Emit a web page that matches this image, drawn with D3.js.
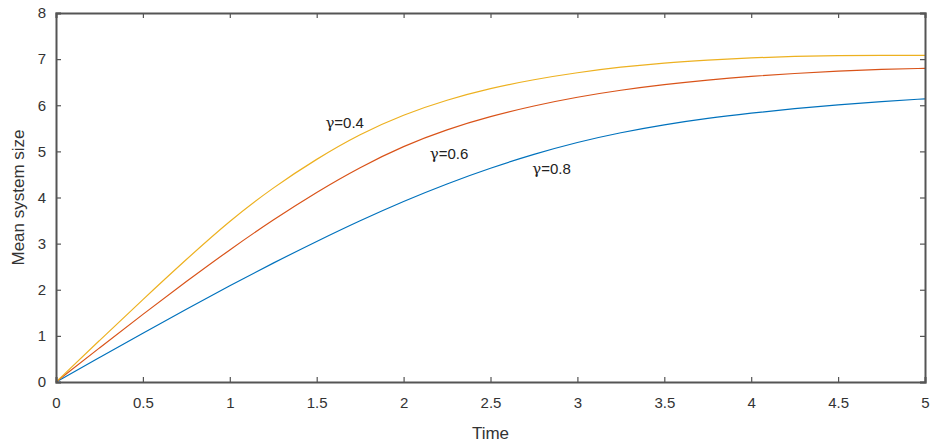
<!DOCTYPE html>
<html>
<head>
<meta charset="utf-8">
<script src="https://cdn.jsdelivr.net/npm/d3@7"></script>
<style>
  body { margin: 0; background: #fff; }
  svg { display: block; font-family: "Liberation Sans", Arial, sans-serif; }
</style>
</head>
<body>
<div id="chart"></div>
<script>
// Data
const times = [0, 0.25, 0.5, 0.75, 1, 1.25, 1.5, 1.75, 2, 2.25, 2.5, 2.75, 3, 3.25, 3.5, 3.75, 4, 4.25, 4.5, 4.75, 5];
const gamma08 = [0, 0.53, 1.06, 1.58, 2.09, 2.58, 3.05, 3.5, 3.92, 4.3, 4.64, 4.94, 5.2, 5.41, 5.58, 5.72, 5.83, 5.93, 6.01, 6.08, 6.14];
const gamma06 = [0, 0.74, 1.47, 2.18, 2.87, 3.52, 4.12, 4.66, 5.12, 5.48, 5.76, 5.99, 6.18, 6.33, 6.45, 6.55, 6.63, 6.69, 6.74, 6.78, 6.8];
const gamma04 = [0, 0.9, 1.79, 2.66, 3.5, 4.22, 4.84, 5.38, 5.8, 6.12, 6.37, 6.56, 6.71, 6.83, 6.92, 6.98, 7.03, 7.06, 7.08, 7.08, 7.08];
const xTicks = [0, 0.5, 1, 1.5, 2, 2.5, 3, 3.5, 4, 4.5, 5];
const yTicks = [0, 1, 2, 3, 4, 5, 6, 7, 8];

const series = [
  { name: "0.8", values: gamma08, color: "#0072BD", label: [2.74, 4.51] },
  { name: "0.6", values: gamma06, color: "#D95319", label: [2.15, 4.84] },
  { name: "0.4", values: gamma04, color: "#EDB120", label: [1.55, 5.51] }
];

const W = 930, H = 444;
const margin = { left: 56, right: 5, top: 13, bottom: 62 };

const svg = d3.select("#chart").append("svg")
  .attr("width", W).attr("height", H);

const x = d3.scaleLinear().domain([0, 5]).range([margin.left, W - margin.right]);
const y = d3.scaleLinear().domain([0, 8]).range([H - margin.bottom, margin.top]);

const axisColor = "#555";
const tickLen = 5;

// lines
const line = d3.line()
  .x((d, i) => x(times[i]))
  .y(d => y(d))
  .curve(d3.curveBasis);

svg.append("g")
  .selectAll("path")
  .data(series)
  .join("path")
  .attr("fill", "none")
  .attr("stroke", d => d.color)
  .attr("stroke-width", 1.2)
  .attr("d", d => line(d.values));

// curve labels
const lbl = svg.append("g")
  .selectAll("text")
  .data(series)
  .join("text")
  .attr("x", d => x(d.label[0]))
  .attr("y", d => y(d.label[1]))
  .attr("font-size", 15)
  .attr("fill", "#222");
lbl.append("tspan").attr("font-family", "'DejaVu Serif', serif").text("γ");
lbl.append("tspan").text(d => "=" + d.name);

// axes with inward ticks on all sides
const axBottom = svg.append("g")
  .attr("transform", `translate(0,${y(0)})`)
  .call(d3.axisBottom(x).tickValues(xTicks).tickSize(-tickLen).tickPadding(15).tickFormat(d3.format("")));
const axTop = svg.append("g")
  .attr("transform", `translate(0,${y(8)})`)
  .call(d3.axisTop(x).tickValues(xTicks).tickSize(-tickLen).tickFormat(""));
const axLeft = svg.append("g")
  .attr("transform", `translate(${x(0)},0)`)
  .call(d3.axisLeft(y).tickValues(yTicks).tickSize(-tickLen).tickPadding(10));
const axRight = svg.append("g")
  .attr("transform", `translate(${x(5)},0)`)
  .call(d3.axisRight(y).tickValues(yTicks).tickSize(-tickLen).tickFormat(""));

[axBottom, axTop, axLeft, axRight].forEach(g => {
  g.select(".domain").attr("stroke", axisColor).attr("stroke-width", 2);
  g.selectAll(".tick line").attr("stroke", axisColor).attr("stroke-width", 1.2);
  g.selectAll(".tick text")
    .attr("fill", "#333")
    .attr("font-size", 15)
    .attr("font-family", "'Liberation Sans', Arial, sans-serif");
});

// axis titles
svg.append("text")
  .attr("x", (x(0) + x(5)) / 2)
  .attr("y", 439)
  .attr("text-anchor", "middle")
  .attr("font-size", 17)
  .attr("fill", "#333")
  .text("Time");

svg.append("text")
  .attr("transform", `translate(24,${(y(0) + y(8)) / 2}) rotate(-90)`)
  .attr("text-anchor", "middle")
  .attr("font-size", 17)
  .attr("fill", "#333")
  .text("Mean system size");
</script>
</body>
</html>
